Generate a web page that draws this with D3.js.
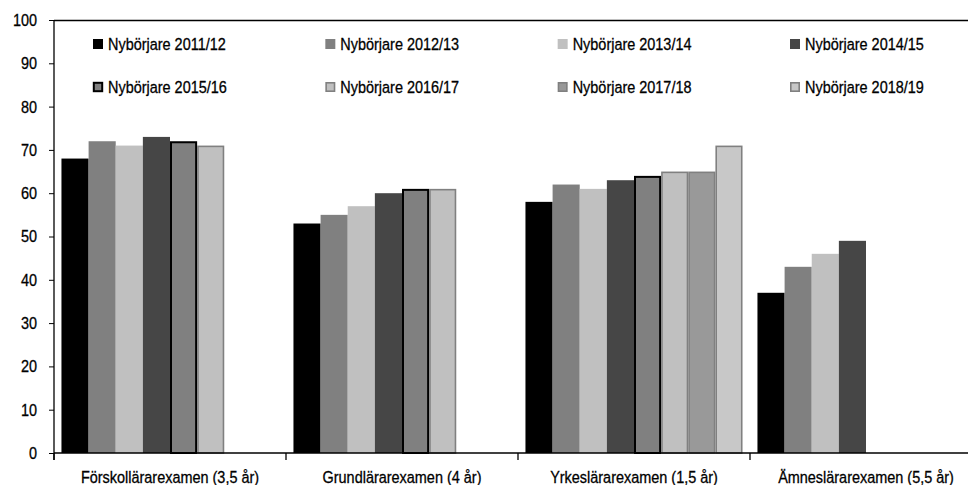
<!DOCTYPE html>
<html><head><meta charset="utf-8">
<script src="https://cdn.jsdelivr.net/npm/d3@7"></script>
<style>
body{margin:0;background:#fff;}
text{font-family:"Liberation Sans",Arial,sans-serif;stroke:#000;stroke-width:0.3px;}
</style></head>
<body>
<svg id="c" width="968" height="485"></svg>
<script>
const categories = ["Förskollärarexamen (3,5 år)","Grundlärarexamen (4 år)","Yrkeslärarexamen (1,5 år)","Ämneslärarexamen (5,5 år)"];
const seriesNames = ["Nybörjare 2011/12","Nybörjare 2012/13","Nybörjare 2013/14","Nybörjare 2014/15","Nybörjare 2015/16","Nybörjare 2016/17","Nybörjare 2017/18","Nybörjare 2018/19"];
// values per series, in category order (null = no bar)
const s2011 = [68, 53, 58, 37];
const s2012 = [72, 55, 62, 43];
const s2013 = [71, 57, 61, 46];
const s2014 = [73, 60, 63, 49];
const s2015 = [72, 61, 64, null];
const s2016 = [71, 61, 65, null];
const s2017 = [null, null, 65, null];
const s2018 = [null, null, 71, null];
const yTicks = [0,10,20,30,40,50,60,70,80,90,100];

const allSeries = [s2011,s2012,s2013,s2014,s2015,s2016,s2017,s2018];
const fills   = ["#000000","#808080","#c0c0c0","#464646","#808080","#c0c0c0","#999999","#c8c8c8"];
const strokes = [null,null,null,null,"#000000","#808080","#808080","#808080"];

const FS = 17, SX = 0.85;
function condense(sel){
  sel.each(function(){
    const t = d3.select(this);
    const x = +t.attr("x") || 0;
    t.attr("x", x / SX).attr("transform", `scale(${SX},1)`);
  });
}

const svg = d3.select("#c");
const mLeft = 54, mTop = 20, mBottom = 453, mRight = 982;
const y = d3.scaleLinear().domain([0,100]).range([mBottom, mTop]);
const x0 = d3.scaleBand().domain(categories).range([mLeft, mRight]).paddingInner(0).paddingOuter(0);
const x1 = d3.scaleBand().domain(d3.range(8)).range([0, x0.bandwidth()]).paddingInner(0).paddingOuter(0.275);

// top frame line
svg.append("line").attr("x1",mLeft).attr("x2",mRight).attr("y1",mTop+0.5).attr("y2",mTop+0.5)
  .attr("stroke","#000").attr("stroke-width",1.3);

// bars
allSeries.forEach((vals, si) => {
  const g = svg.append("g");
  vals.forEach((v, ci) => {
    if (v == null) return;
    const sw = strokes[si] ? (si===4 ? 2 : 1.6) : 0;
    const bx = x0(categories[ci]) + x1(si);
    const r = g.append("rect")
      .attr("x", bx + sw/2)
      .attr("y", y(v) + sw/2)
      .attr("width", x1.bandwidth() - sw)
      .attr("height", y(0) - y(v) - sw/2)
      .attr("fill", fills[si]);
    if (strokes[si]) r.attr("stroke", strokes[si]).attr("stroke-width", sw);
  });
});

// y axis
const yAxis = d3.axisLeft(y).tickValues(yTicks).tickSize(5).tickPadding(12);
const ya = svg.append("g").attr("transform",`translate(${mLeft},0)`).call(yAxis);
ya.select(".domain").attr("stroke","#000").attr("stroke-width",1.3).attr("d",`M0,${mTop}V${mBottom+7}`);
ya.selectAll(".tick line").attr("stroke","#000");
ya.selectAll("text").attr("font-size",FS).attr("fill","#000")
  .attr("font-family",'"Liberation Sans",Arial,sans-serif').call(condense);

// x axis
const xa = svg.append("g").attr("transform",`translate(0,${mBottom})`)
  .call(d3.axisBottom(x0).tickSize(0).tickPadding(18));
xa.select(".domain").attr("stroke","#000").attr("stroke-width",1.3).attr("d",`M${mLeft},0H${mRight}`);
xa.selectAll("text").attr("font-size",FS).attr("fill","#000")
  .attr("font-family",'"Liberation Sans",Arial,sans-serif').call(condense);
// boundary ticks
const bounds = categories.map(c => x0(c)).concat([mRight]);
svg.append("g").selectAll("line").data(bounds).join("line")
  .attr("x1",d=>d).attr("x2",d=>d).attr("y1",mBottom).attr("y2",mBottom+7)
  .attr("stroke","#000").attr("stroke-width",1.3);

// legend
const legX = d3.scaleLinear().domain([0,3]).range([93, 790]);
const legY = [44, 87];
const lg = svg.append("g");
seriesNames.forEach((name, i) => {
  const col = i % 4, row = Math.floor(i/4);
  const gx = legX(col), gy = legY[row];
  const sw = strokes[i] ? 1.6 : 0;
  const r = lg.append("rect").attr("x", gx + sw/2).attr("y", gy - 5 + sw/2)
    .attr("width", 10 - sw).attr("height", 10 - sw).attr("fill", fills[i]);
  if (strokes[i]) r.attr("stroke", strokes[i]).attr("stroke-width", i===4 ? 2 : 1.6);
  lg.append("g").attr("transform",`translate(${gx + 15},${gy})`)
    .append("text").attr("x",0).attr("y",0).attr("dy","0.35em")
    .attr("font-size",FS).attr("fill","#000").text(name).call(condense);
});
</script>
</body></html>
